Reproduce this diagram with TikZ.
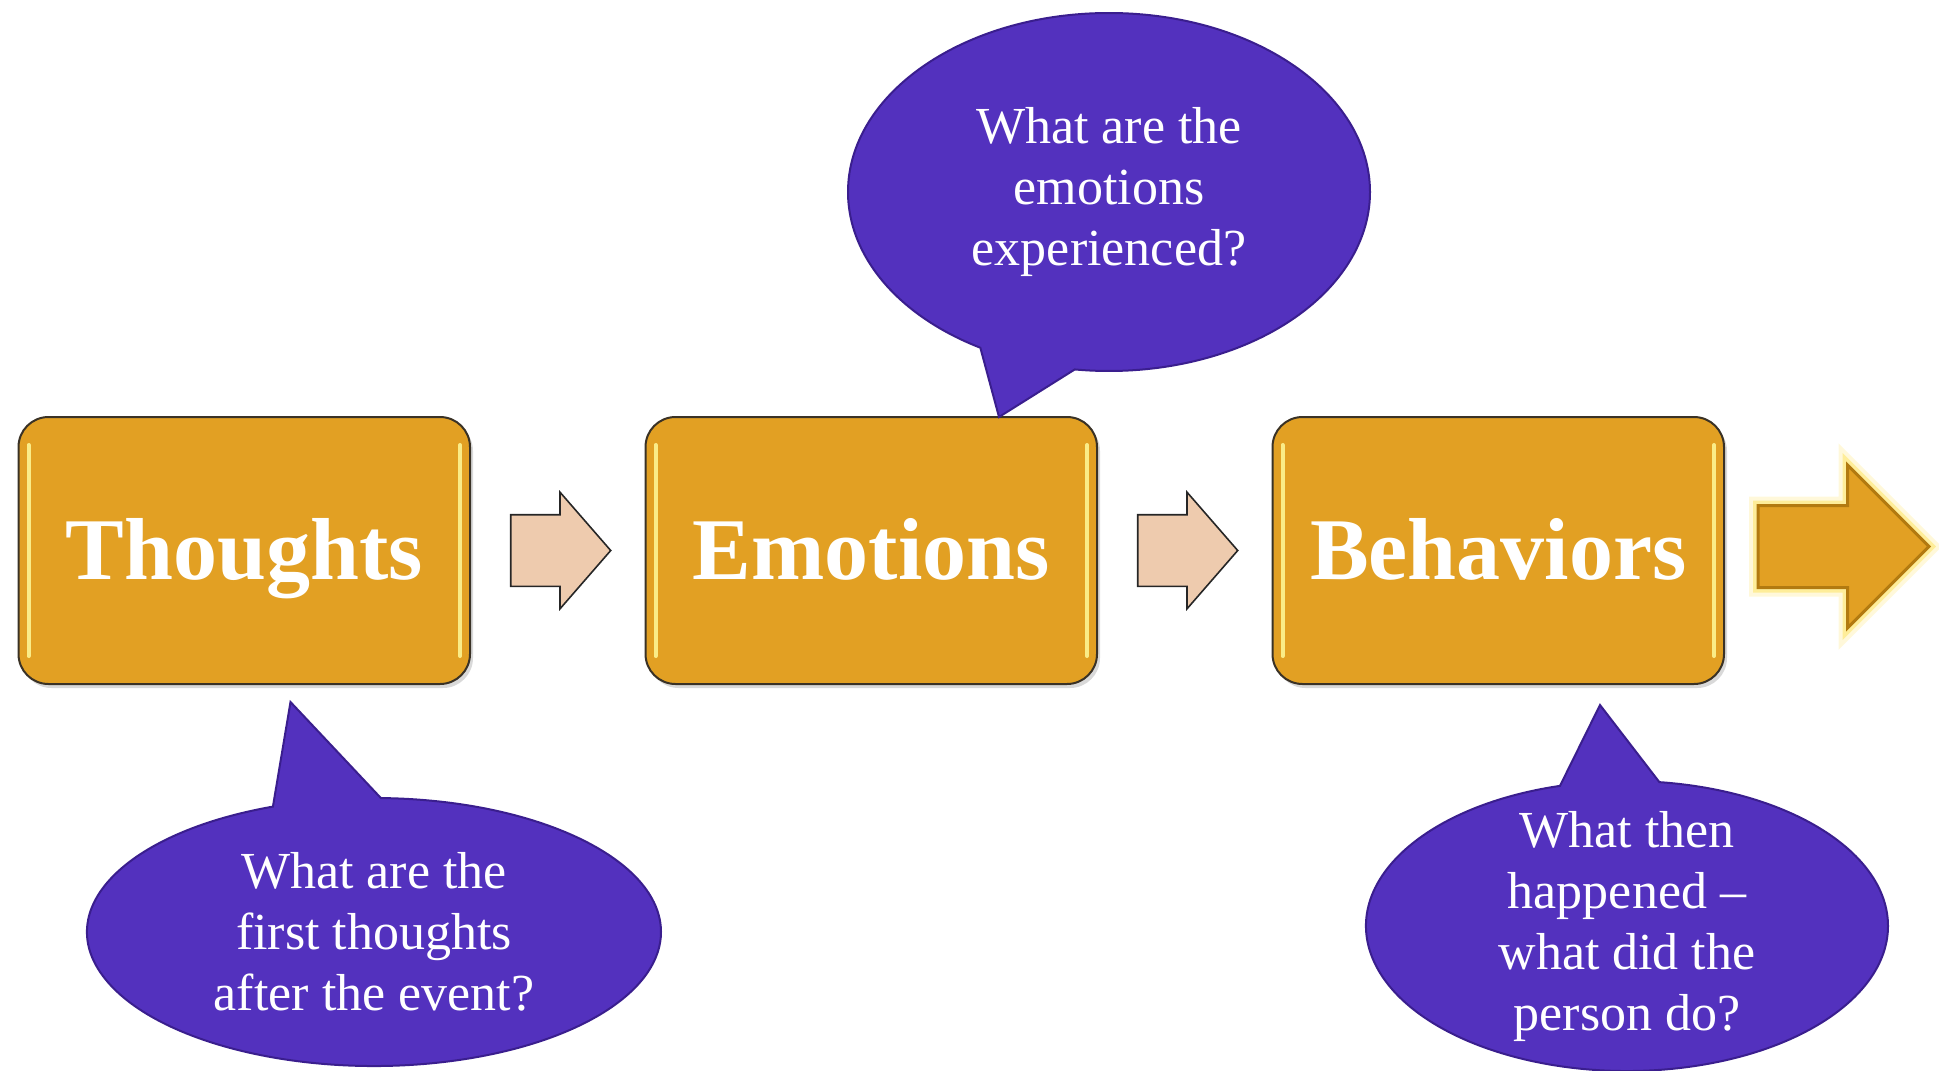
\documentclass[tikz,border=0pt]{standalone}
\usepackage{fontspec}
\setmainfont{Liberation Serif}
\usetikzlibrary{positioning,calc,shapes.arrows,shapes.callouts,shadows}

\definecolor{boxgold}{HTML}{E2A023}
\definecolor{boxline}{HTML}{3A3226}
\definecolor{bubblefill}{HTML}{5331BE}
\definecolor{bubbleline}{HTML}{3A1E8E}
\definecolor{peach}{HTML}{EECBAE}
\definecolor{arrowline}{HTML}{B27A10}

\begin{document}
\begin{tikzpicture}[
    x=0.5pt, y=-0.5pt,
    stepbox/.style={draw=boxline, fill=boxgold, line width=1pt, rounded corners=15pt, minimum width=225.75pt, minimum height=133.5pt, inner sep=0pt, outer sep=0pt, text height=29pt, text depth=0pt, text=white, font=\fontsize{44}{50}\selectfont\bfseries, drop shadow={shadow xshift=1.5pt, shadow yshift=-2pt, opacity=0.3}},
    gloss/.style={line width=2pt, draw=yellow!40!white, line cap=round, opacity=0.85},
    blockarrow/.style={single arrow, anchor=tail, draw=black!85, fill=peach, line width=0.8pt, minimum height=50pt, minimum width=57.5pt, single arrow head extend=11.25pt, single arrow tip angle=98, inner xsep=0pt, inner ysep=17.5pt, outer sep=0pt},
    bigarrow/.style={single arrow, anchor=tail, draw=arrowline, fill=boxgold, line width=1.5pt, minimum height=85.5pt, minimum width=80pt, single arrow head extend=20.25pt, inner xsep=0pt, inner ysep=19.75pt, outer sep=0pt,
        preaction={draw=yellow!70!orange, line width=9pt, opacity=0.15},
        preaction={draw=yellow!70!orange, line width=5pt, opacity=0.3}},
    bubble/.style={ellipse callout, draw=bubbleline, fill=bubblefill, line width=1pt, callout pointer arc=22, inner sep=0pt},
    bubbletext/.style={text=white, align=center, font=\fontsize{26}{30.5}\selectfont}
]
\useasboundingbox (0,0) rectangle (1939,1071);

% ===== STEP BOXES =====
\node[stepbox] (thoughts) at (244.25,550.5) {Thoughts};
\node[stepbox, right=87.75pt of thoughts] (emotions) {Emotions};
\node[stepbox, right=87.75pt of emotions] (behaviors) {Behaviors};

% glossy edges
\foreach \b in {thoughts,emotions,behaviors} {
  \draw[gloss] ([xshift=5pt,yshift=-14pt]\b.north west) -- ([xshift=5pt,yshift=14pt]\b.south west);
  \draw[gloss] ([xshift=-5pt,yshift=-14pt]\b.north east) -- ([xshift=-5pt,yshift=14pt]\b.south east);
}

% ===== ARROWS =====
\node[blockarrow] (a1) at ($(thoughts.east)+(40.7,0)$) {};
\node[blockarrow] (a2) at ($(emotions.east)+(40.7,0)$) {};
\node[bigarrow] (next) at ($(behaviors.east)+(34,-4)$) {};

% ===== QUESTION BUBBLES =====
\node[bubble, minimum width=261pt, minimum height=179pt, callout absolute pointer={($(emotions.north west)+(353.5,0)$)}] (bemotions) at (1109,192) {};
\node[bubbletext] (qemotions) at (bemotions.center) {What are the\\emotions\\experienced?};

\node[bubble, minimum width=287pt, minimum height=134pt, callout absolute pointer={($(thoughts.south west)+(272,18)$)}] (bthoughts) at (374,932) {};
\node[bubbletext] (qthoughts) at (bthoughts.center) {What are the\\first thoughts\\after the event?};

\node[bubble, minimum width=261pt, minimum height=145pt, callout absolute pointer={($(behaviors.south west)+(327.5,21)$)}] (bbehaviors) at (1627,926) {};
\node[bubbletext] (qbehaviors) at (bbehaviors.center) {What then\\happened --\\what did the\\person do?};

\end{tikzpicture}
\end{document}
